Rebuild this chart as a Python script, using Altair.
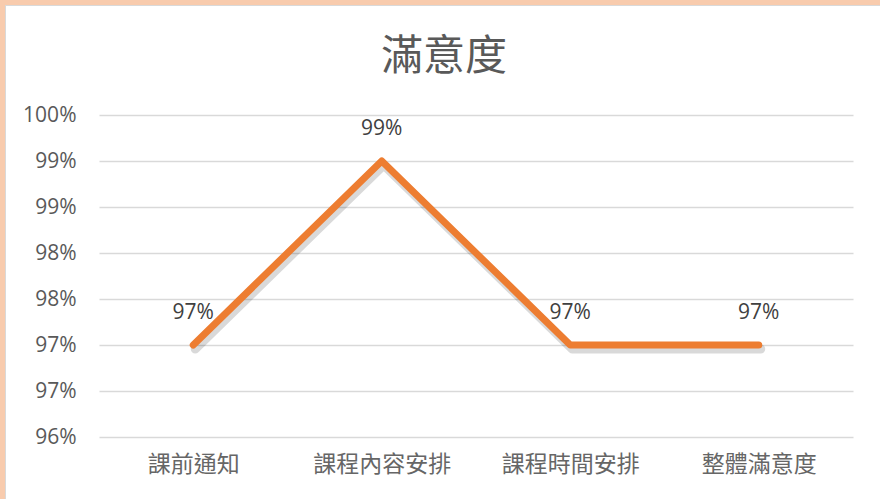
import altair as alt
import pandas as pd

categories = ["課前通知", "課程內容安排", "課程時間安排", "整體滿意度"]
values = [97, 99, 97, 97]  # percent
y_ticks = [96, 96.5, 97, 97.5, 98, 98.5, 99, 99.5]

df = pd.DataFrame({
    "cat": categories,
    "val": values,
    "label": [f"{round(v)}%" for v in values],
})

CJK = "Noto Sans CJK TC"
NUM = "Open Sans"

x_enc = alt.X("cat:N", sort=categories, title=None,
              scale=alt.Scale(type="point", padding=0.5),
              axis=alt.Axis(labelAngle=0, labelFont=CJK, labelFontSize=23,
                            labelColor="#666666", ticks=False, tickSize=0,
                            domain=False, grid=False, labelPadding=16,
                            labelBaseline="top"))
y_enc = alt.Y("val:Q", title=None,
              scale=alt.Scale(domain=[96, 99.5], nice=False, zero=False),
              axis=alt.Axis(values=y_ticks, labelExpr="round(datum.value) + '%'",
                            labelFont=NUM, labelFontSize=21, labelColor="#595959",
                            ticks=False, tickSize=0, domain=False, grid=True,
                            gridColor="#D9D9D9", gridWidth=1.5, labelPadding=23))

base = alt.Chart(df)

shadow = base.mark_line(color="#000000", opacity=0.15, strokeWidth=9,
                        strokeCap="round", strokeJoin="round",
                        xOffset=2, yOffset=4).encode(x=x_enc, y=y_enc)
line = base.mark_line(color="#ED7D31", strokeWidth=7, strokeCap="round",
                      strokeJoin="round").encode(x=x_enc, y=y_enc)
labels = base.mark_text(font=NUM, fontSize=21, color="#404040", dy=-32).encode(
    x=x_enc, y=y_enc, text="label:N")

border = alt.Chart(pd.DataFrame({"k": [0]}))
top_peach = border.mark_rule(color="#F8CBAD", strokeWidth=5).encode(
    x=alt.value(-99), x2=alt.value(781), y=alt.value(-112.5))
top_grey = border.mark_rule(color="#D9D9D9", strokeWidth=1).encode(
    x=alt.value(-94), x2=alt.value(781), y=alt.value(-109.5))
left_peach = border.mark_rule(color="#F8CBAD", strokeWidth=5).encode(
    x=alt.value(-96.5), y=alt.value(-115), y2=alt.value(384))
left_grey = border.mark_rule(color="#D9D9D9", strokeWidth=1).encode(
    x=alt.value(-93.5), y=alt.value(-110), y2=alt.value(384))

chart = alt.layer(shadow, line, labels, top_peach, top_grey, left_peach, left_grey).properties(
    width=754, height=322,
    title=alt.Title("滿意度", font=CJK, fontSize=42, fontWeight="normal",
                    color="#595959", anchor="middle", dx=-32, offset=0,
                    baseline="alphabetic", dy=114),
    autosize=alt.AutoSizeParams(type="none"),
    padding={"left": 99, "top": 115, "right": 27, "bottom": 62},
    background="white",
).configure_view(stroke=None)

chart.save("out.html", embed_options={"renderer": "svg", "actions": False})
